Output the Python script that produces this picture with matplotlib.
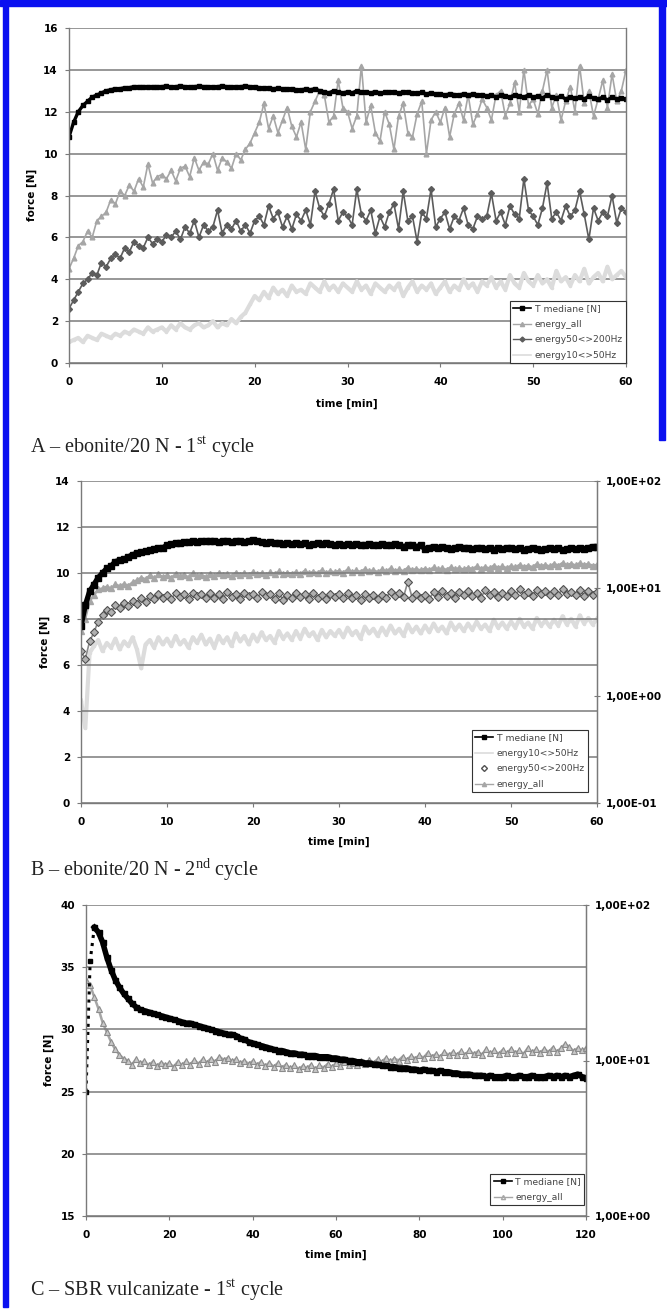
import numpy as np
import matplotlib.pyplot as plt
from matplotlib.ticker import FixedLocator, FuncFormatter
from matplotlib.lines import Line2D

plt.rcParams['font.family'] = ['DejaVu Sans']
plt.rcParams['mathtext.fontset'] = 'custom'
plt.rcParams['mathtext.rm'] = 'Liberation Serif'

# ---------------- data ----------------
# panel A, sampled every 0.5 min, force [N]
timeA = np.arange(0, 60.01, 0.5)
medianeA = [
    10.8, 11.5, 12.0, 12.3, 12.5, 12.7, 12.8, 12.9, 13.0, 13.05,
    13.1, 13.1, 13.15, 13.15, 13.2, 13.2, 13.2, 13.2, 13.2, 13.2,
    13.2, 13.22, 13.18, 13.2, 13.22, 13.2, 13.18, 13.2, 13.22, 13.2,
    13.2, 13.18, 13.2, 13.22, 13.2, 13.18, 13.2, 13.2, 13.22, 13.2,
    13.18, 13.15, 13.15, 13.12, 13.1, 13.12, 13.1, 13.08, 13.1, 13.05,
    13.05, 13.08, 13.05, 13.1, 13.0, 12.95, 12.9, 13.0, 12.95, 12.9,
    12.95, 12.9, 13.0, 12.92, 12.95, 12.9, 12.95, 12.9, 12.92, 12.95,
    12.95, 12.9, 12.92, 12.95, 12.9, 12.88, 12.92, 12.85, 12.9, 12.85,
    12.85, 12.8, 12.85, 12.82, 12.8, 12.85, 12.8, 12.85, 12.8, 12.82,
    12.75, 12.8, 12.7, 12.78, 12.75, 12.7, 12.8, 12.75, 12.7, 12.8,
    12.7, 12.75, 12.65, 12.8, 12.7, 12.65, 12.75, 12.6, 12.7, 12.65,
    12.7, 12.6, 12.75, 12.65, 12.6, 12.7, 12.55, 12.7, 12.6, 12.65,
    12.6]
energy_allA = [
    4.5, 5.0, 5.6, 5.8, 6.3, 6.0, 6.8, 7.0, 7.2, 7.8,
    7.6, 8.2, 8.0, 8.5, 8.2, 8.8, 8.4, 9.5, 8.6, 8.9,
    9.0, 8.8, 9.2, 8.7, 9.3, 9.4, 8.9, 9.8, 9.2, 9.6,
    9.5, 10.0, 9.2, 9.8, 9.6, 9.3, 10.0, 9.7, 10.2, 10.5,
    11.0, 11.5, 12.4, 11.2, 11.8, 11.0, 11.6, 12.2, 11.3, 10.8,
    11.5, 10.2, 12.0, 12.5, 13.0, 12.8, 11.5, 11.8, 13.5, 12.2,
    12.0, 11.2, 11.8, 14.2, 11.5, 12.3, 11.0, 10.6, 12.0, 11.4,
    10.2, 11.8, 12.4, 11.0, 10.8, 11.9, 12.5, 10.0, 11.6, 12.0,
    11.5, 12.2, 10.8, 11.9, 12.4, 11.6, 12.8, 11.4, 11.9, 12.6,
    12.2, 11.6, 12.8, 13.0, 11.8, 12.4, 13.4, 12.0, 14.0, 12.3,
    12.6, 11.9, 13.0, 14.0, 12.2, 12.8, 11.6, 12.5, 13.2, 12.0,
    14.2, 12.4, 13.0, 11.8, 12.6, 13.5, 12.2, 13.8, 12.5, 13.0,
    14.0]
energy50_200A = [
    2.6, 3.0, 3.4, 3.8, 4.0, 4.3, 4.2, 4.8, 4.6, 5.0,
    5.2, 5.0, 5.5, 5.3, 5.8, 5.6, 5.5, 6.0, 5.7, 5.9,
    5.8, 6.1, 6.0, 6.3, 5.9, 6.5, 6.2, 6.8, 6.0, 6.6,
    6.3, 6.5, 7.3, 6.2, 6.6, 6.4, 6.8, 6.3, 6.6, 6.2,
    6.8, 7.0, 6.6, 7.5, 6.9, 7.2, 6.5, 7.0, 6.4, 7.1,
    6.8, 7.3, 6.6, 8.2, 7.4, 7.0, 7.6, 8.3, 6.8, 7.2,
    7.0, 6.6, 8.3, 7.1, 6.8, 7.3, 6.2, 7.0, 6.5, 7.2,
    7.6, 6.4, 8.2, 6.8, 7.0, 5.8, 7.2, 6.9, 8.3, 6.5,
    6.9, 7.2, 6.4, 7.0, 6.8, 7.4, 6.6, 6.4, 7.0, 6.9,
    7.0, 8.1, 6.8, 7.2, 6.6, 7.5, 7.1, 6.9, 8.8, 7.3,
    7.0, 6.6, 7.4, 8.6, 6.9, 7.2, 6.8, 7.5, 7.0, 7.3,
    8.2, 7.1, 5.9, 7.4, 6.8, 7.2, 7.0, 8.0, 6.7, 7.4,
    7.2]
energy10_50A = [
    1.0, 1.1, 1.2, 1.0, 1.3, 1.2, 1.1, 1.4, 1.3, 1.2,
    1.4, 1.3, 1.5, 1.4, 1.6, 1.5, 1.4, 1.7, 1.5, 1.6,
    1.7, 1.5, 1.8, 1.6, 1.9, 1.7, 1.6, 1.8, 1.9, 1.7,
    1.8, 2.0, 1.7, 1.9, 1.8, 2.1, 1.9, 2.2, 2.4, 2.8,
    3.2, 3.0, 3.4, 3.1, 3.6, 3.3, 3.5, 3.2, 3.7, 3.4,
    3.5, 3.3, 3.8, 3.6, 3.4, 3.9, 3.5, 3.7, 3.4, 3.8,
    3.6, 3.4, 3.9, 3.5, 3.7, 3.3, 3.8, 3.6, 3.4, 3.7,
    3.5, 3.8, 3.2, 3.6, 3.9, 3.4, 3.7, 3.5, 3.8, 3.3,
    3.6, 3.9, 3.4, 3.7, 3.5, 4.0, 3.6, 3.8, 3.4, 3.9,
    3.7, 4.1, 3.6, 3.9, 3.5, 4.2, 3.8, 3.6, 4.3, 3.9,
    3.7, 4.2, 3.8, 4.0, 3.6, 4.4, 3.9, 4.1, 3.7, 4.2,
    3.9, 4.5, 3.8, 4.1, 4.3, 3.9, 4.6, 4.0, 4.2, 4.4,
    4.1]

# panel B, every 0.5 min; force [N] left, energies on the log axis
timeB = np.arange(0, 60.01, 0.5)
medianeB = [
    7.7, 8.6, 9.2, 9.5, 9.8, 10.0, 10.2, 10.3, 10.5, 10.55,
    10.6, 10.7, 10.8, 10.85, 10.9, 10.95, 11.0, 11.05, 11.1, 11.1,
    11.2, 11.25, 11.3, 11.3, 11.35, 11.35, 11.4, 11.35, 11.4, 11.4,
    11.4, 11.4, 11.35, 11.4, 11.4, 11.35, 11.4, 11.4, 11.35, 11.4,
    11.45, 11.4, 11.35, 11.3, 11.35, 11.3, 11.3, 11.25, 11.3, 11.25,
    11.3, 11.25, 11.3, 11.2, 11.25, 11.3, 11.25, 11.3, 11.25, 11.2,
    11.25, 11.2, 11.25, 11.2, 11.25, 11.2, 11.2, 11.25, 11.2, 11.2,
    11.25, 11.2, 11.2, 11.25, 11.2, 11.15, 11.2, 11.2, 11.15, 11.2,
    11.05, 11.1, 11.15, 11.1, 11.15, 11.1, 11.05, 11.1, 11.15, 11.1,
    11.1, 11.05, 11.1, 11.1, 11.05, 11.1, 11.0, 11.1, 11.05, 11.1,
    11.1, 11.05, 11.1, 11.0, 11.05, 11.1, 11.05, 11.0, 11.05, 11.1,
    11.05, 11.1, 11.0, 11.05, 11.1, 11.05, 11.1, 11.05, 11.1, 11.15,
    11.15]
energy_allB = [
    4.0, 5.2, 7.6, 8.6, 9.8, 10.0, 10.4, 10.0, 10.9, 10.5,
    11.0, 10.6, 11.4, 11.9, 12.6, 12.2, 13.2, 12.4, 13.5, 12.8,
    13.2, 12.6, 13.6, 12.9, 13.4, 12.7, 13.8, 13.0, 13.4, 12.8,
    13.5, 13.0, 13.9, 13.2, 13.6, 13.0, 14.0, 13.4, 13.8, 13.3,
    14.2, 13.5, 13.9, 13.3, 14.1, 13.6, 14.4, 13.5, 14.0, 13.7,
    14.2, 13.6, 14.6, 13.8, 14.3, 13.9, 14.8, 14.0, 14.5, 14.1,
    14.6, 14.0, 15.0, 14.2, 14.7, 14.3, 15.1, 14.4, 14.8, 14.2,
    15.0, 14.4, 15.4, 14.6, 15.0, 14.5, 15.6, 14.8, 15.2, 14.7,
    15.3, 14.8, 15.7, 15.0, 15.4, 14.9, 15.8, 15.1, 15.5, 15.0,
    15.6, 15.2, 16.0, 15.3, 15.8, 15.4, 16.3, 15.6, 16.0, 15.5,
    16.2, 15.7, 16.6, 15.9, 16.3, 15.8, 16.9, 16.1, 16.6, 16.0,
    17.0, 16.3, 17.3, 16.5, 17.0, 16.4, 17.2, 16.6, 16.9, 16.3,
    16.6]
energy50_200B = [
    2.6, 2.2, 3.2, 3.9, 4.9, 5.6, 6.3, 6.0, 7.0, 6.6,
    7.3, 6.8, 7.7, 7.2, 8.1, 7.5, 8.5, 7.9, 8.9, 8.2,
    8.7, 8.0, 9.0, 8.3, 8.9, 7.9, 9.1, 8.4, 8.8, 8.1,
    9.0, 8.2, 8.8, 8.0, 9.2, 8.3, 8.9, 7.9, 9.1, 8.4,
    8.9, 8.1, 9.3, 8.4, 8.8, 8.0, 9.0, 7.8, 8.7, 8.2,
    9.0, 8.3, 8.8, 7.9, 9.1, 8.2, 8.7, 8.0, 8.9, 8.3,
    8.8, 8.1, 9.0, 8.2, 8.6, 7.8, 8.8, 8.1, 8.6, 7.9,
    8.7, 8.2, 9.3, 8.4, 9.0, 8.3, 11.5, 8.2, 8.9, 8.1,
    8.7, 8.0, 9.2, 8.3, 9.4, 8.5, 9.0, 8.2, 9.3, 8.6,
    9.5, 8.4, 9.1, 8.2, 9.6, 8.6, 9.2, 8.3, 9.0, 8.4,
    9.4, 8.6, 9.8, 8.7, 9.3, 8.5, 9.7, 8.8, 9.5, 8.6,
    9.4, 8.7, 9.9, 8.8, 9.3, 8.6, 9.6, 8.5, 9.4, 8.7,
    9.2]
energy10_50B = [
    0.9, 0.5, 2.5, 2.9, 3.3, 2.6, 3.1, 2.8, 3.4, 2.7,
    3.2, 2.9, 3.5, 2.7, 1.8, 3.0, 3.3, 2.8, 3.5, 3.0,
    3.4, 2.9, 3.6, 3.0, 3.3, 2.8, 3.5, 3.1, 3.7, 3.0,
    3.4, 2.8, 3.6, 3.1, 3.5, 2.9, 3.8, 3.2, 3.6, 3.0,
    3.7, 3.2, 3.9, 3.3, 3.6, 3.1, 4.0, 3.4, 3.8, 3.3,
    4.0, 3.4, 4.2, 3.6, 3.9, 3.3, 4.1, 3.5, 4.0, 3.6,
    4.1, 3.5, 4.3, 3.7, 4.0, 3.4, 4.4, 3.8, 4.2, 3.6,
    4.3, 3.7, 4.5, 3.8, 4.2, 3.6, 4.6, 3.9, 4.4, 3.8,
    4.5, 3.9, 4.7, 4.0, 4.4, 3.8, 4.8, 4.1, 4.6, 4.0,
    4.7, 4.1, 4.9, 4.2, 4.6, 4.0, 5.1, 4.3, 4.8, 4.2,
    4.9, 4.3, 5.2, 4.4, 4.8, 4.2, 5.3, 4.5, 5.0, 4.4,
    5.1, 4.5, 5.5, 4.6, 5.2, 4.4, 5.6, 4.7, 5.3, 4.6,
    5.2]

# panel C, every 1 min
timeC = np.arange(0, 120.01, 1.0)
medianeC = [
    25.0, 35.5, 38.2, 37.8, 37.0, 35.8, 34.8, 34.0, 33.4, 32.9,
    32.5, 32.1, 31.8, 31.6, 31.5, 31.4, 31.3, 31.2, 31.1, 31.0,
    30.9, 30.8, 30.7, 30.6, 30.5, 30.5, 30.4, 30.3, 30.2, 30.1,
    30.0, 29.9, 29.8, 29.7, 29.6, 29.6, 29.5, 29.3, 29.2, 29.0,
    28.9, 28.8, 28.7, 28.6, 28.5, 28.4, 28.3, 28.3, 28.2, 28.1,
    28.1, 28.0, 28.0, 27.9, 27.9, 27.9, 27.8, 27.8, 27.8, 27.7,
    27.7, 27.6, 27.6, 27.5, 27.5, 27.4, 27.4, 27.3, 27.3, 27.2,
    27.2, 27.1, 27.1, 27.0, 27.0, 26.9, 26.9, 26.9, 26.8, 26.8,
    26.7, 26.8, 26.7, 26.7, 26.6, 26.7, 26.6, 26.6, 26.5, 26.5,
    26.4, 26.4, 26.4, 26.3, 26.3, 26.3, 26.2, 26.3, 26.2, 26.2,
    26.2, 26.3, 26.2, 26.2, 26.3, 26.2, 26.2, 26.3, 26.2, 26.2,
    26.2, 26.3, 26.2, 26.3, 26.2, 26.3, 26.2, 26.3, 26.4, 26.2,
    26.1]
energy_allC = [
    33.0, 30.5, 25.5, 21.5, 17.5, 15.2, 13.2, 11.8, 10.9, 10.3,
    10.0, 9.4, 10.2, 9.6, 9.9, 9.3, 9.8, 9.2, 9.7, 9.4,
    9.6, 9.1, 9.8, 9.3, 9.9, 9.4, 10.1, 9.5, 10.2, 9.7,
    10.3, 9.8, 10.6, 10.1, 10.4, 9.9, 10.2, 9.6, 10.0, 9.5,
    9.9, 9.4, 9.8, 9.2, 9.7, 9.1, 9.6, 9.0, 9.4, 8.9,
    9.3, 8.8, 9.2, 8.9, 9.4, 8.8, 9.3, 9.0, 9.5, 9.1,
    9.6, 9.2, 9.8, 9.3, 9.7, 9.4, 10.0, 9.5, 10.1, 9.7,
    10.2, 9.8, 10.4, 9.9, 10.3, 10.0, 10.6, 10.1, 10.7, 10.3,
    10.8, 10.4, 11.2, 10.6, 11.0, 10.5, 11.4, 10.8, 11.3, 10.9,
    11.5, 10.9, 11.6, 11.0, 11.4, 10.9, 11.8, 11.1, 11.6, 11.0,
    11.7, 11.1, 11.9, 11.2, 11.6, 11.0, 12.0, 11.3, 11.8, 11.2,
    11.9, 11.3, 12.1, 11.4, 12.0, 12.8, 12.2, 11.5, 12.0, 11.6,
    12.0]

captions = ['A \u2013 ebonite/20 N - 1$^{\\mathrm{st}}$ cycle',
            'B \u2013 ebonite/20 N - 2$^{\\mathrm{nd}}$ cycle',
            'C \u2013 SBR vulcanizate - 1$^{\\mathrm{st}}$ cycle']

# ---------------- layout in pixels ----------------
W, H = 667, 1311
fig = plt.figure(figsize=(W / 100, H / 100), dpi=100)

GRID = '#7a7a7a'
C_ALL = '#a6a6a6'
C_50 = '#5c5c5c'
C_10 = '#dcdcdc'
TICKFS = 7.5


def px_axes(l, r, t, b):
    return fig.add_axes([l / W, 1 - b / H, (r - l) / W, (b - t) / H])


def excel_style(ax, ylim, yticks, xlim, xticks):
    ax.set_xlim(xlim)
    ax.set_ylim(ylim)
    ax.set_xticks(xticks)
    ax.set_yticks(yticks)
    ax.yaxis.grid(True, color=GRID, lw=1.1)
    ax.set_axisbelow(True)
    for s in ax.spines.values():
        s.set_color(GRID)
        s.set_linewidth(1.0)
    ax.spines['top'].set_visible(False)
    ax.tick_params(axis='both', labelsize=TICKFS, color=GRID, length=3,
                   direction='out', pad=5)
    ax.tick_params(axis='x', pad=7)
    for lab in ax.get_xticklabels() + ax.get_yticklabels():
        lab.set_fontweight('bold')


def right_log(ax, lo, hi):
    ax2 = ax.twinx()
    ax2.set_yscale('log')
    ax2.set_ylim(lo, hi)
    decades = [10.0 ** k for k in range(int(np.log10(lo)), int(np.log10(hi)) + 1)]
    ax2.yaxis.set_major_locator(FixedLocator(decades))
    ax2.yaxis.set_minor_locator(FixedLocator([]))
    ax2.yaxis.set_major_formatter(
        FuncFormatter(lambda v, p: ('%.2E' % v).replace('.', ',')))
    for s in ax2.spines.values():
        s.set_visible(False)
    ax2.spines['right'].set_visible(True)
    ax2.spines['right'].set_color(GRID)
    ax2.tick_params(axis='y', labelsize=TICKFS, color=GRID, length=4,
                    direction='inout', pad=4)
    for lab in ax2.get_yticklabels():
        lab.set_fontweight('bold')
    return ax2


def legend_at(ax, handles, labels, right_px, bottom_px):
    leg = ax.legend(handles, labels, loc='lower right',
                    bbox_to_anchor=(right_px / W, 1 - bottom_px / H),
                    bbox_transform=fig.transFigure, borderaxespad=0,
                    fancybox=False, framealpha=1, edgecolor='#333333',
                    fontsize=6.6, labelspacing=0.7, handlelength=2.0,
                    handletextpad=0.35, borderpad=0.35)
    leg.get_frame().set_linewidth(0.8)
    for t in leg.get_texts():
        t.set_color('#444444')
    return leg


# ---------------- panel A ----------------
axA = px_axes(69, 626, 28, 363)
excel_style(axA, (0, 16), range(0, 17, 2), (0, 60), range(0, 61, 10))
l10A, = axA.plot(timeA, energy10_50A, color=C_10, lw=3.0, marker='.', ms=3)
l50A, = axA.plot(timeA, energy50_200A, color=C_50, lw=1.2, marker='D', ms=3)
lallA, = axA.plot(timeA, energy_allA, color=C_ALL, lw=1.2, marker='^', ms=3.4)
lmedA, = axA.plot(timeA, medianeA, color='black', lw=2.4, marker='s', ms=3.2)
legend_at(axA,
          [Line2D([], [], color='black', lw=1.2, marker='s', ms=3),
           Line2D([], [], color=C_ALL, lw=1.0, marker='^', ms=3),
           Line2D([], [], color=C_50, lw=1.0, marker='D', ms=2.5),
           Line2D([], [], color=C_10, lw=1.2)],
          ['T mediane [N]', 'energy_all', 'energy50<>200Hz', 'energy10<>50Hz'],
          626, 363)

# ---------------- panel B ----------------
axB = px_axes(81, 597, 481, 803)
excel_style(axB, (0, 14), range(0, 15, 2), (0, 60), range(0, 61, 10))
axB2 = right_log(axB, 0.1, 100)
l10B, = axB2.plot(timeB, energy10_50B, color=C_10, lw=3.0, marker='.', ms=3)
axB2.plot(timeB, energy50_200B, color='#8a8a8a', lw=1.2)
l50B, = axB2.plot(timeB, energy50_200B, ls='none', marker='D', ms=4.5,
                  mfc='#b0b0b0', mec='#505050', mew=0.8)
lallB, = axB2.plot(timeB, energy_allB, color=C_ALL, lw=1.6, marker='^', ms=4)
axB.set_zorder(1)
axB.patch.set_visible(False)
axB.plot(timeB, medianeB, color='black', lw=3.8, marker='s', ms=4)
legend_at(axB,
          [Line2D([], [], color='black', lw=1.2, marker='s', ms=3.5),
           Line2D([], [], color=C_10, lw=1.2),
           Line2D([], [], ls='none', marker='D', ms=3, mfc='white', mec='#505050'),
           Line2D([], [], color=C_ALL, lw=1.0, marker='^', ms=3)],
          ['T mediane [N]', 'energy10<>50Hz', 'energy50<>200Hz', 'energy_all'],
          588, 792)

# ---------------- panel C ----------------
axC = px_axes(86, 586, 905, 1216)
excel_style(axC, (15, 40), range(15, 41, 5), (0, 120), range(0, 121, 20))
axC2 = right_log(axC, 1, 100)
axC2.plot(timeC, energy_allC, color=C_ALL, lw=1.8, marker='^', ms=4.2,
          mfc='#c8c8c8', mec='#8c8c8c', mew=0.8)
axC.set_zorder(1)
axC.patch.set_visible(False)
axC.plot(timeC[:3], medianeC[:3], color='black', lw=2.2, marker='s', ms=3.2,
         ls=':')
axC.plot(timeC[2:], medianeC[2:], color='black', lw=4.0, marker='s', ms=3.6)
legend_at(axC,
          [Line2D([], [], color='black', lw=1.2, marker='s', ms=3),
           Line2D([], [], color=C_ALL, lw=1.0, marker='^', ms=3, mfc='none')],
          ['T mediane [N]', 'energy_all'], 584, 1205)

# ---------------- axis titles and captions ----------------
for xc, yc in [(347, 404), (339, 842), (336, 1255)]:
    fig.text(xc / W, 1 - yc / H, 'time [min]', fontsize=TICKFS,
             fontweight='bold', ha='center', va='center')
for xc, yc in [(32, 195), (45, 642), (49, 1060)]:
    fig.text(xc / W, 1 - yc / H, 'force [N]', fontsize=TICKFS,
             fontweight='bold', ha='center', va='center', rotation=90)
for cap, yc in zip(captions, [447, 870, 1290]):
    fig.text(30 / W, 1 - yc / H, cap, fontsize=14.5, family='Liberation Serif',
             ha='left', va='center', color='#222222')

# blue frame around the page
frame = dict(transform=None, color='#0a10f0', zorder=10)
fig.patches.append(plt.Rectangle((0, H - 6), W, 6, **frame))
fig.patches.append(plt.Rectangle((3, H - 1307), 4.5, 1307, **frame))
fig.patches.append(plt.Rectangle((659, H - 440), 6, 440, **frame))

fig.savefig('out.png', dpi=100)
